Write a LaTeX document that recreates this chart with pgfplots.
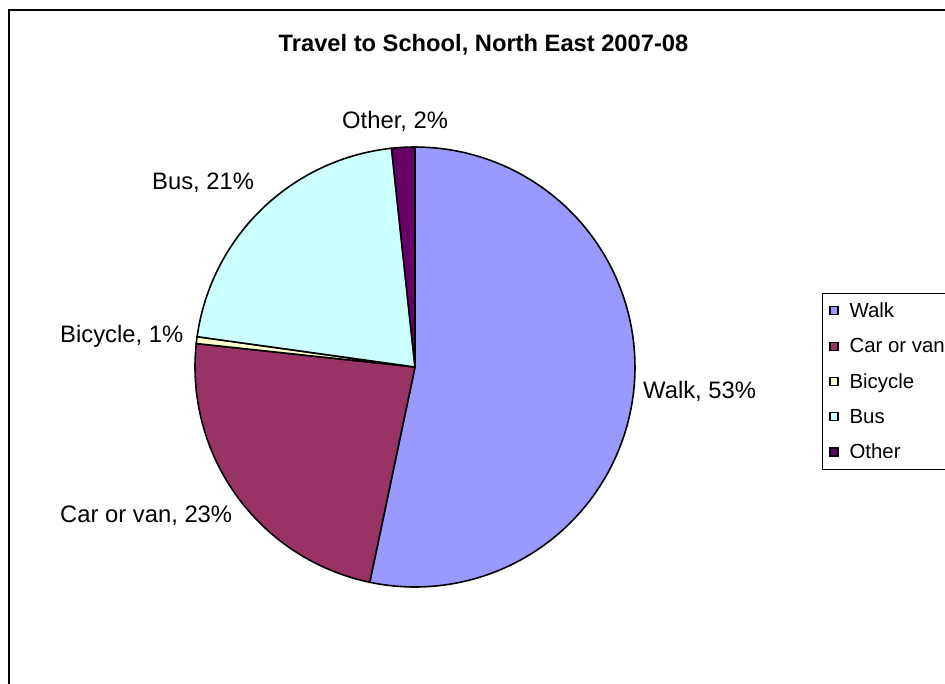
\documentclass[border=0pt]{standalone}
\usepackage{pgfplots}
\pgfplotsset{compat=1.18}
\usepackage{fontspec}
\setmainfont{Liberation Sans}
\definecolor{cWalk}{HTML}{9999FF}
\definecolor{cCar}{HTML}{993366}
\definecolor{cBike}{HTML}{FFFFCC}
\definecolor{cBus}{HTML}{CCFFFF}
\definecolor{cOther}{HTML}{660066}
\begin{document}
\begin{tikzpicture}
% shares (percent)
\def\vWalk{53.3}\def\vCar{23.4}\def\vBike{0.5}\def\vBus{21.1}\def\vOther{1.7}
\pgfmathsetmacro\aA{0}
\pgfmathsetmacro\aB{\aA+3.6*\vWalk}
\pgfmathsetmacro\aC{\aB+3.6*\vCar}
\pgfmathsetmacro\aD{\aC+3.6*\vBike}
\pgfmathsetmacro\aE{\aD+3.6*\vBus}
\pgfmathsetmacro\aF{\aE+3.6*\vOther}
\def\cx{415}\def\cy{367}\def\rr{220}
\begin{axis}[at={(0,0)}, anchor=south west,
  width=945pt, height=684pt, scale only axis,
  xmin=0, xmax=945, ymin=0, ymax=684, y dir=reverse,
  hide axis, clip=false,
  legend image code/.code={\draw[#1, draw=black, line width=1.1pt] (0pt,-4pt) rectangle (8pt,4pt);},
  legend style={at={(822/945,1-293.3/684)}, anchor=north west,
    draw=black, line width=1pt, fill=white,
    inner xsep=7pt, inner ysep=9pt, row sep=19.3pt, column sep=11pt,
    nodes={inner sep=0pt},
    font=\fontsize{20.4}{24}\selectfont},
  legend cell align=left]
\addplot[fill=cWalk, draw=black, line width=1.6pt, domain=\aA:\aB, samples=90, variable=\t]
  ({\cx+\rr*sin(\t)}, {\cy-\rr*cos(\t)}) -- (axis cs:\cx,\cy) -- cycle;
\addlegendentry{Walk}
\addplot[fill=cCar, draw=black, line width=1.6pt, domain=\aB:\aC, samples=50, variable=\t]
  ({\cx+\rr*sin(\t)}, {\cy-\rr*cos(\t)}) -- (axis cs:\cx,\cy) -- cycle;
\addlegendentry{Car or van}
\addplot[fill=cBike, draw=black, line width=1.6pt, domain=\aC:\aD, samples=3, variable=\t]
  ({\cx+\rr*sin(\t)}, {\cy-\rr*cos(\t)}) -- (axis cs:\cx,\cy) -- cycle;
\addlegendentry{Bicycle}
\addplot[fill=cBus, draw=black, line width=1.6pt, domain=\aD:\aE, samples=50, variable=\t]
  ({\cx+\rr*sin(\t)}, {\cy-\rr*cos(\t)}) -- (axis cs:\cx,\cy) -- cycle;
\addlegendentry{Bus}
\addplot[fill=cOther, draw=black, line width=1.6pt, domain=\aE:\aF, samples=5, variable=\t]
  ({\cx+\rr*sin(\t)}, {\cy-\rr*cos(\t)}) -- (axis cs:\cx,\cy) -- cycle;
\addlegendentry{Other}
% labels
\begin{scope}[every node/.style={font=\fontsize{23.8}{28}\selectfont, inner sep=0pt, anchor=base west}]
\node at (axis cs:643,398.7) {Walk, 53\%};
\node at (axis cs:60,522) {Car or van, 23\%};
\node at (axis cs:60,342.7) {Bicycle, 1\%};
\node at (axis cs:152,189.3) {Bus, 21\%};
\node at (axis cs:342,128.5) {Other, 2\%};
\end{scope}
\node[anchor=base, inner sep=0pt, font=\bfseries\fontsize{23.7}{28}\selectfont] at (axis cs:483.5,51.7) {Travel to School, North East 2007-08};
\draw[line width=2pt] (axis cs:9,10) rectangle (axis cs:962,705);
\end{axis}
\pgfresetboundingbox
\path (0,0) rectangle (945pt,684pt);
\end{tikzpicture}
\end{document}
